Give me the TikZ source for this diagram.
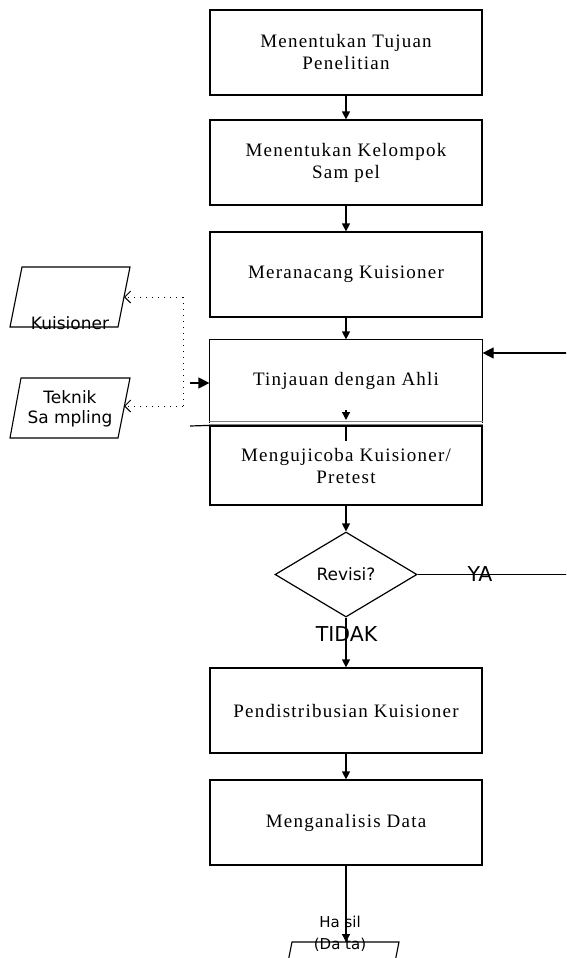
\documentclass[tikz,border=0pt]{standalone}
\usepackage{fontspec}
\setmainfont{Liberation Serif}
\newfontfamily\boxfont[LetterSpace=6.5]{Liberation Serif}
\newfontfamily\sansf{DejaVu Sans}
\usetikzlibrary{arrows.meta,shapes.geometric}
\begin{document}
\begin{tikzpicture}[x=1pt,y=-1pt,
  boxn/.style={draw, line width=1.2pt, minimum width=272pt, minimum height=85pt, inner sep=0pt, align=center,
    font=\boxfont\fontsize{19}{22}\selectfont},
  arr/.style={line width=1.2pt, -{Triangle[length=8pt,width=8pt]}},
  bigarr/.style={line width=1.2pt, -{Triangle[length=11pt,width=11pt]}},
  pline/.style={line width=1.1pt},
  dotl/.style={line width=1pt, dash pattern=on 1pt off 5pt},
  dotarr/.style={dotl, -{Straight Barb[length=6pt,width=12pt,line width=1pt]}},
  stxt/.style={font=\sansf\fontsize{17}{20}\selectfont, inner sep=0pt, align=center},
  ltxt/.style={font=\sansf\fontsize{20.5}{24}\selectfont, inner sep=0pt},
  htxt/.style={font=\sansf\fontsize{15}{18}\selectfont, inner sep=0pt}
]
\useasboundingbox (0,0) rectangle (566,958);
\clip (0,0) rectangle (566,958);

% main boxes
\node[boxn] (b1) at (346,52.5) {Menentukan Tujuan\\Penelitian};
\node[boxn] (b2) at (346,162.5) {Menentukan Kelompok\\Sam pel};
\node[boxn] (b3) at (346,274.5) {Meranacang Kuisioner};
\node[boxn, draw=none, minimum height=82pt] (tin) at (346,381) {Tinjauan dengan Ahli};
\draw[line width=1.2pt] (tin.south west) -- (tin.north west) -- (tin.north east) -- (tin.south east);
\draw[gray, line width=0.7pt] ([yshift=1.5pt]tin.south west) -- ([yshift=1.5pt]tin.south east);
\draw[gray, line width=0.7pt] ([yshift=-1.5pt]tin.south west) -- ([yshift=-1.5pt]tin.south east);
\node[boxn, minimum height=79pt] (mgj) at (346,465.5) {Mengujicoba Kuisioner/\\Pretest};
\node[diamond, draw, line width=1.2pt, minimum width=142pt, minimum height=85pt, inner sep=0pt, aspect=1.67,
  font=\sansf\fontsize{17}{20}\selectfont] (rev) at (346,574.5) {Revisi?};
\node[boxn] (dist) at (346,710.5) {Pendistribusian Kuisioner};
\node[boxn] (anal) at (346,822.5) {Menganalisis Data};

% vertical arrows
\draw[arr] (b1.south) -- (b2.north);
\draw[arr] (b2.south) -- (b3.north);
\draw[arr] (b3.south) -- (tin.north);
\coordinate (tinA) at (346,410);
\coordinate (tinB) at (346,420);
\draw[arr] (tinA) -- (tinB);
\coordinate (mgjL) at (346,441);
\draw[line width=1.2pt] (mgj.north) -- (mgjL);
\draw[arr] (mgj.south) -- (rev.north);
\draw[arr] (rev.south) -- (dist.north);
\draw[arr] (dist.south) -- (anal.north);

% feedback YA
\coordinate (yaT) at (570,574.5);
\coordinate (yaR) at (570,353);
\draw[bigarr] (rev.east) -- (yaT) -- (yaR) -- (tin.east |- yaR);
\node[ltxt] (ya) at (480,574) {YA};
\node[ltxt] (tidak) at (346.5,634) {TIDAK};

% left lines
\coordinate (lA) at (190,383);
\coordinate (lB) at (190,426);
\draw[bigarr] (lA) -- (tin.west |- lA);
\draw[line width=1.2pt] (lB) -- (mgj.north west);

% left parallelograms
\coordinate (k1) at (22,267); \coordinate (k2) at (130,267);
\coordinate (k3) at (118,327); \coordinate (k4) at (10,327);
\draw[pline] (k1) -- (k2) -- (k3) -- (k4) -- cycle;
\node[stxt, anchor=base] (kuis) at (70,329.5) {Kuisioner};
\coordinate (t1) at (21,378); \coordinate (t2) at (130,378);
\coordinate (t3) at (118,438); \coordinate (t4) at (10,438);
\draw[pline] (t1) -- (t2) -- (t3) -- (t4) -- cycle;
\node[stxt] (tek) at (70,408.5) {Teknik\\Sa mpling};

% dotted connectors
\coordinate (dtop) at (183,297);
\coordinate (dbot) at (183,406);
\coordinate (kuisR) at (124,297);
\coordinate (tekR) at (124,406);
\draw[dotl] (dtop) -- (dbot);
\draw[dotarr] (dtop) -- (kuisR);
\draw[dotarr] (dbot) -- (tekR);

% bottom output
\coordinate (h1) at (292,942); \coordinate (h2) at (399,942);
\coordinate (h3) at (387,1002); \coordinate (h4) at (280,1002);
\coordinate (hTop) at (346,942);
\draw[pline] (h1) -- (h2) -- (h3) -- (h4) -- cycle;
\draw[arr] (anal.south) -- (hTop);
\node[htxt] (hasil) at (340,922) {Ha sil};
\node[htxt] (data) at (340,945) {(Da ta)};
\end{tikzpicture}
\end{document}
